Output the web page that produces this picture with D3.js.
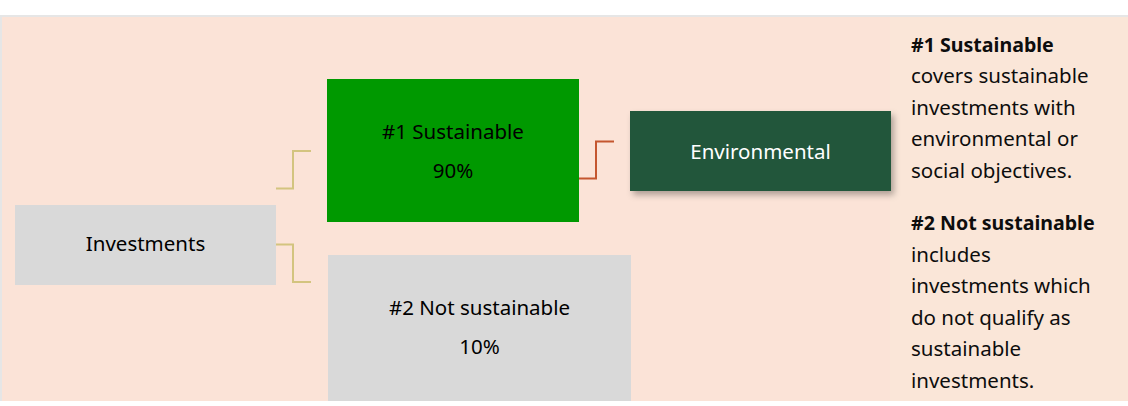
<!DOCTYPE html>
<html>
<head>
<meta charset="utf-8">
<script src="https://cdn.jsdelivr.net/npm/d3@7"></script>
<style>
  html, body { margin: 0; padding: 0; background: #ffffff; }
  svg { display: block; }
</style>
</head>
<body>
<div id="chart"></div>
<script>
// Data
var rootName = "Investments";
var categories = ["#1 Sustainable", "#2 Not sustainable"];
var shares = [90, 10];
var subCategories = ["Environmental"];
var noteTitles = ["#1 Sustainable", "#2 Not sustainable"];
var noteLines = [
  ["covers sustainable", "investments with", "environmental or", "social objectives."],
  ["includes", "investments which", "do not qualify as", "sustainable", "investments."]
];

var W = 1128, H = 406;
var font = "'Noto Sans', 'Open Sans', sans-serif";
var fs = "20.5px";

var svg = d3.select("#chart").append("svg")
  .attr("width", W)
  .attr("height", H);

var defs = svg.append("defs");
var shadow = defs.append("filter").attr("id", "shadow")
  .attr("x", "-10%").attr("y", "-20%").attr("width", "130%").attr("height", "160%");
shadow.append("feDropShadow")
  .attr("dx", 3).attr("dy", 4).attr("stdDeviation", 3)
  .attr("flood-color", "#000").attr("flood-opacity", 0.3);

// background panels
svg.append("rect").attr("x", 0).attr("y", 15).attr("width", W).attr("height", 386)
  .style("fill", "#e6e6e6");
svg.append("rect").attr("x", 2).attr("y", 17).attr("width", 888).attr("height", 384)
  .style("fill", "#fbe3d7");
svg.append("rect").attr("x", 890).attr("y", 17).attr("width", W - 890).attr("height", 384)
  .style("fill", "#fae6d8");

// column scale for the tree levels
var colX = d3.scaleOrdinal().domain([0, 1, 2]).range([15, 327, 630]);
var pct = d3.format(".0f");

var g = svg.append("g");

// connectors root -> categories
var tan = "#d3c47f";
var connRoot = [
  { x0: 276, y0: 188.5, xm: 293, y1: 151, x1: 311 },
  { x0: 276, y0: 244.5, xm: 293, y1: 282, x1: 311 }
];
var line = d3.line().curve(d3.curveLinear);
g.selectAll("path.conn").data(connRoot).enter().append("path")
  .attr("class", "conn")
  .attr("d", function(d) {
    return line([[d.x0, d.y0], [d.xm, d.y0], [d.xm, d.y1], [d.x1, d.y1]]);
  })
  .style("fill", "none").style("stroke", tan).style("stroke-width", 2);

// connector sustainable -> environmental
g.append("path")
  .attr("d", line([[579, 178.5], [596, 178.5], [596, 141.5], [614, 141.5]]))
  .style("fill", "none").style("stroke", "#c4562f").style("stroke-width", 2);

// root box
g.append("rect").attr("x", colX(0)).attr("y", 205).attr("width", 261).attr("height", 80)
  .style("fill", "#d9d9d9");
g.append("text").attr("x", colX(0) + 130.5).attr("y", 250.5)
  .attr("text-anchor", "middle").attr("font-family", font).attr("font-size", fs)
  .style("fill", "#000").text(rootName);

// category boxes
var catBoxes = [
  { x: 327, y: 79, w: 252, h: 143, fill: "#009900" },
  { x: 328, y: 255, w: 303, h: 146, fill: "#d9d9d9" }
];
var cat = g.selectAll("g.cat").data(categories).enter().append("g").attr("class", "cat");
cat.append("rect")
  .attr("x", function(d, i) { return catBoxes[i].x; })
  .attr("y", function(d, i) { return catBoxes[i].y; })
  .attr("width", function(d, i) { return catBoxes[i].w; })
  .attr("height", function(d, i) { return catBoxes[i].h; })
  .style("fill", function(d, i) { return catBoxes[i].fill; });
cat.append("text")
  .attr("x", function(d, i) { return catBoxes[i].x + catBoxes[i].w / 2; })
  .attr("y", function(d, i) { return catBoxes[i].y + 60; })
  .attr("text-anchor", "middle").attr("font-family", font).attr("font-size", fs)
  .style("fill", "#000").text(function(d) { return d; });
cat.append("text")
  .attr("x", function(d, i) { return catBoxes[i].x + catBoxes[i].w / 2; })
  .attr("y", function(d, i) { return catBoxes[i].y + 99; })
  .attr("text-anchor", "middle").attr("font-family", font).attr("font-size", fs)
  .style("fill", "#000").text(function(d, i) { return pct(shares[i]) + "%"; });

// sub category box
var sub = g.selectAll("g.sub").data(subCategories).enter().append("g").attr("class", "sub");
sub.append("rect").attr("x", colX(2)).attr("y", 111).attr("width", 261).attr("height", 80)
  .style("fill", "#24573a").attr("filter", "url(#shadow)");
sub.append("text").attr("x", colX(2) + 130.5).attr("y", 158.5)
  .attr("text-anchor", "middle").attr("font-family", font).attr("font-size", fs)
  .style("fill", "#ffffff").text(function(d) { return d; });

// notes on the right
var notes = svg.append("g").attr("transform", "translate(911,0)");
var paraTop = [51.5, 230];
var lh = 31.6;
noteTitles.forEach(function(t, i) {
  var txt = notes.append("text").attr("font-family", font).attr("font-size", fs)
    .style("fill", "#0d0d0d");
  txt.append("tspan").attr("x", 0).attr("y", paraTop[i])
    .attr("font-weight", "700").attr("font-size", "19.6px").text(t);
  noteLines[i].forEach(function(l, j) {
    txt.append("tspan").attr("x", 0).attr("y", paraTop[i] + lh * (j + 1)).text(l);
  });
});
</script>
</body>
</html>
